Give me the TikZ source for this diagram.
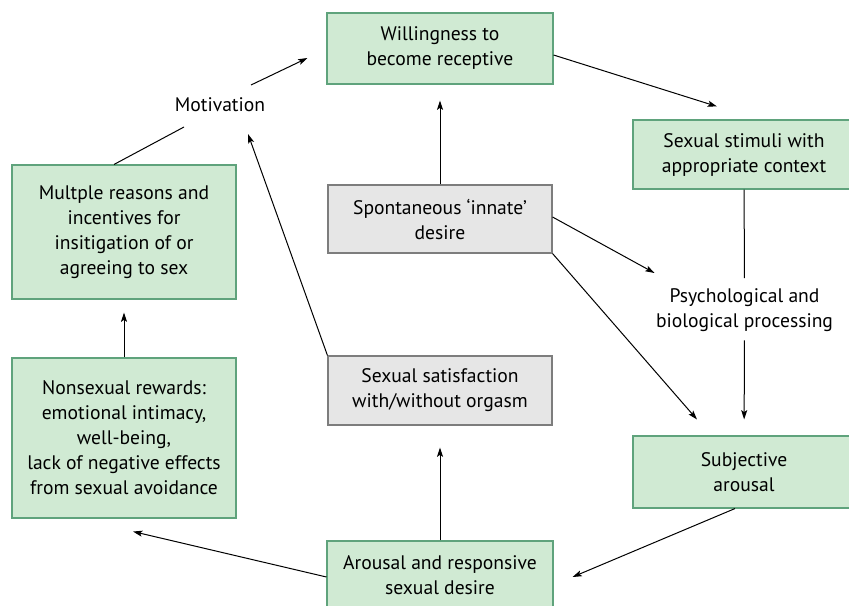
\documentclass[tikz,border=0pt]{standalone}
\usepackage{fontspec}
\setmainfont{PT Sans}
\usepackage{tikz}
\usetikzlibrary{arrows.meta,calc,positioning}
\definecolor{boxgreen}{RGB}{208,234,211}
\definecolor{edgegreen}{RGB}{95,163,124}
\definecolor{boxgray}{RGB}{230,230,230}
\definecolor{edgegray}{RGB}{125,125,125}
\tikzset
{
    textnode/.style = {align=center, font=\fontsize{14.7}{18.75}\selectfont},
    greenbox/.style = {textnode, draw=edgegreen, fill=boxgreen, line width=0.8pt, minimum width=168pt},
    graybox/.style  = {textnode, draw=edgegray, fill=boxgray, line width=0.8pt, minimum width=168pt}
}

\begin{document}
\begin{tikzpicture}[->,>={Stealth[length=7pt,width=4.5pt,inset=1.5pt]}, x=0.75pt, y=-0.75pt, line width=0.75pt]
    \useasboundingbox (0,0) rectangle (849,606);
    % boxes
    \node [greenbox, minimum width=169.5pt, minimum height=53.25pt] (will) at (440,48.5) {Willingness to\\become receptive};
    \node [greenbox, minimum width=166.5pt, minimum height=51.75pt] (stim) at (744,154.5) {Sexual stimuli with\\appropriate context};
    \node [graybox, minimum height=51pt] (spont) at (440,219) {Spontaneous `innate'\\desire};
    \node [greenbox, minimum height=100.5pt] (multi) at (124,232) {Multple reasons and\\incentives for\\insitigation of or\\agreeing to sex};
    \node [greenbox, minimum height=120pt] (nonsex) at (124,438) {Nonsexual rewards:\\emotional intimacy,\\well-being,\\lack of negative effects\\from sexual avoidance};
    \node [graybox, minimum height=51.75pt] (sat) at (440,390.5) {Sexual satisfaction\\with/without orgasm};
    \node [greenbox, minimum width=166.5pt, minimum height=54pt] (subj) at (744,472) {Subjective\\arousal};
    \node [greenbox, minimum width=169.5pt, minimum height=51pt] (arousal) at (440,575) {Arousal and responsive\\sexual desire};
    % plain labels
    \node [textnode] (mot) at (220,105) {Motivation};
    \node [textnode] (psy) at (744.5,310) {Psychological and\\biological processing};

    % connectors
    \draw ($(mot)+(31,-20)$) -- ($(will.west)+(-19,9.5)$);
    \draw ($(will.east)+(0,6.5)$) -- ($(stim.north)+(-27,-13)$);
    \draw [-, shorten >=4pt] (stim) -- (psy);
    \draw [shorten <=3pt, shorten >=12pt] (psy) -- (subj);
    \draw ($(spont.east)+(0,-2)$) -- ($(psy)+(-90,-37)$);
    \draw (spont.south east) -- ($(subj.north)+(-47,-16)$);
    \draw [shorten >=12pt] (spont) -- (will);
    \draw ($(subj.south)+(-9,0)$) -- ($(arousal.east)+(19,2)$);
    \draw [shorten >=16.5pt] (arousal) -- (sat);
    \draw ($(arousal.west)+(0,2)$) -- ($(nonsex.south)+(9,13)$);
    \draw [shorten >=9.75pt] (nonsex) -- (multi);
    \draw [-] ($(multi.north)+(-10,0)$) -- ($(mot)+(-36,22)$);
    \draw (sat.north west) -- ($(mot)+(28,29)$);
\end{tikzpicture}
\end{document}
